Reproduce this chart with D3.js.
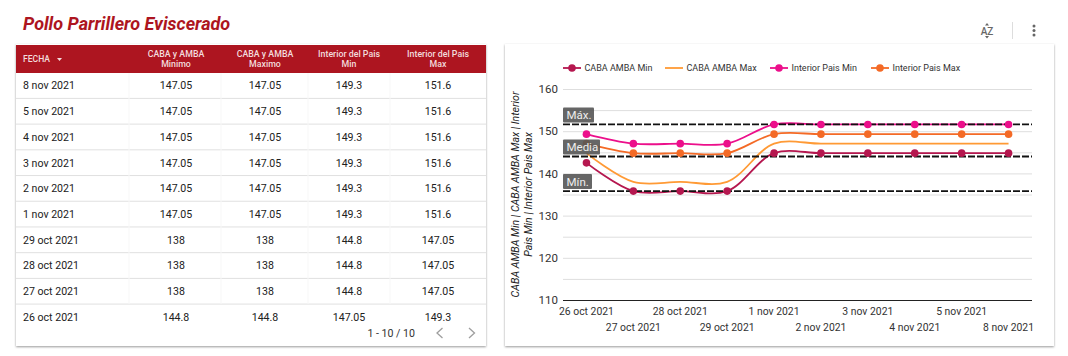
<!DOCTYPE html>
<html>
<head>
<meta charset="utf-8">
<script src="https://cdnjs.cloudflare.com/ajax/libs/d3/7.8.5/d3.min.js"></script>
<style>
    html, body { margin: 0; background: #fff; }
    svg { display: block; font-family: Roboto, sans-serif; }
</style>
</head>
<body>
<div id="chart"></div>
<script>
// table
const tableHeaders = ["FECHA", "CABA y AMBA|Minimo", "CABA y AMBA|Maximo", "Interior del Pais|Min", "Interior del Pais|Max"];
const tableDates = ["8 nov 2021", "5 nov 2021", "4 nov 2021", "3 nov 2021", "2 nov 2021", "1 nov 2021", "29 oct 2021", "28 oct 2021", "27 oct 2021", "26 oct 2021"];
const tableCabaMin = ["147.05", "147.05", "147.05", "147.05", "147.05", "147.05", "138", "138", "138", "144.8"];
const tableCabaMax = ["147.05", "147.05", "147.05", "147.05", "147.05", "147.05", "138", "138", "138", "144.8"];
const tableIntMin = ["149.3", "149.3", "149.3", "149.3", "149.3", "149.3", "144.8", "144.8", "144.8", "147.05"];
const tableIntMax = ["151.6", "151.6", "151.6", "151.6", "151.6", "151.6", "147.05", "147.05", "147.05", "149.3"];

// line chart
const dates = ["26 oct 2021", "27 oct 2021", "28 oct 2021", "29 oct 2021", "1 nov 2021", "2 nov 2021", "3 nov 2021", "4 nov 2021", "5 nov 2021", "8 nov 2021"];
const cabaMin = [142.5, 135.8, 135.8, 135.8, 144.8, 144.8, 144.8, 144.8, 144.8, 144.8];
const cabaMax = [144.8, 138, 138, 138, 147.05, 147.05, 147.05, 147.05, 147.05, 147.05];
const intMin = [149.3, 147.05, 147.05, 147.05, 151.6, 151.6, 151.6, 151.6, 151.6, 151.6];
const intMax = [147.05, 144.8, 144.8, 144.8, 149.3, 149.3, 149.3, 149.3, 149.3, 149.3];
const yTicks = [110, 115, 120, 125, 130, 135, 140, 145, 150, 155, 160];
const refNames = ["Máx.", "Media", "Mín."];
const refValues = [151.6, 144, 135.8];

const series = [
    {name: "CABA AMBA Min", values: cabaMin, color: "#b5174f", dots: true, legendX: 563},
    {name: "CABA AMBA Max", values: cabaMax, color: "#ff9a35", dots: false, legendX: 665},
    {name: "Interior Pais Min", values: intMin, color: "#ec0f8b", dots: true, legendX: 770},
    {name: "Interior Pais Max", values: intMax, color: "#f46a26", dots: true, legendX: 871}
];

const red = "#ad1520";
const svg = d3.select("#chart").append("svg").attr("width", 1068).attr("height", 356);

let defs = svg.append("defs");
defs.append("filter").attr("id", "card").attr("x", "-3%").attr("y", "-3%").attr("width", "106%").attr("height", "106%")
    .append("feDropShadow").attr("dx", 0).attr("dy", 1).attr("stdDeviation", 1.2)
    .attr("flood-color", "#000").attr("flood-opacity", 0.4);

svg.append("text").attr("x", 23).attr("y", 29.5)
    .attr("font-size", 18).attr("font-weight", 700).attr("font-style", "italic").attr("fill", red)
    .text("Pollo Parrillero Eviscerado");

drawTable();
drawChart();
drawToolbar();

function drawTable(){
    let g = svg.append("g");
    g.append("rect").attr("x", 16).attr("y", 44).attr("width", 470).attr("height", 302)
        .attr("fill", "#fff").attr("filter", "url(#card)");
    g.append("rect").attr("x", 16).attr("y", 45).attr("width", 470).attr("height", 28).attr("fill", red);

    let colX = [23, 176, 265, 349, 438];
    let colSep = [129, 221, 308, 390];
    let rowY = d3.scalePoint().domain(tableDates).range([85.6, 317]);
    let columns = [tableCabaMin, tableCabaMax, tableIntMin, tableIntMax];

    // header
    g.append("text").attr("x", colX[0]).attr("y", 62).attr("font-size", 8.6).attr("font-weight", 500)
        .attr("fill", "#f3dcdd").text(tableHeaders[0]);
    g.append("path").attr("d", "M57 58h5l-2.5 3z").attr("fill", "#f3dcdd");
    tableHeaders.slice(1).forEach((h, i) => {
        let lines = h.split("|");
        g.selectAll(null).data(lines).join("text")
            .attr("x", colX[i + 1]).attr("y", (d, j) => 57 + j * 9.5)
            .attr("text-anchor", "middle").attr("font-size", 8.8).attr("font-weight", 500)
            .attr("fill", "#f3dcdd").text(d => d);
    });

    // row lines
    g.selectAll(".rowLine").data(tableDates.slice(0, -1)).join("line")
        .attr("class", "rowLine")
        .attr("x1", 16).attr("x2", 486)
        .attr("y1", d => rowY(d) + 12.8).attr("y2", d => rowY(d) + 12.8)
        .attr("stroke", "#e0e0e0").attr("stroke-width", 1);
    g.selectAll(".colLine").data(colSep).join("line")
        .attr("class", "colLine")
        .attr("x1", d => d).attr("x2", d => d).attr("y1", 73).attr("y2", 304)
        .attr("stroke", "#f7f7f7");

    // cells
    g.selectAll(".dateCell").data(tableDates).join("text")
        .attr("class", "dateCell")
        .attr("x", colX[0]).attr("y", d => rowY(d) + 3.8)
        .attr("font-size", 10.6).attr("fill", "#212121").text(d => d);
    columns.forEach((col, i) => {
        g.selectAll(null).data(col).join("text")
            .attr("x", colX[i + 1]).attr("y", (d, j) => rowY(tableDates[j]) + 3.8)
            .attr("text-anchor", "middle").attr("font-size", 10.6).attr("fill", "#212121").text(d => d);
    });

    // pagination
    g.append("text").attr("x", 415).attr("y", 337).attr("text-anchor", "end")
        .attr("font-size", 10.6).attr("fill", "#333").text("1 - 10 / 10");
    g.append("path").attr("d", "M442.5 328l-5.5 5 5.5 5M469 328l5.5 5-5.5 5")
        .attr("fill", "none").attr("stroke", "#9e9e9e").attr("stroke-width", 1.3);
}

function drawChart(){
    let g = svg.append("g");
    g.append("rect").attr("x", 505).attr("y", 44).attr("width", 549).attr("height", 302)
        .attr("fill", "#fff").attr("filter", "url(#card)");

    let x = d3.scaleBand().domain(dates).range([563, 1032]);
    let y = d3.scaleLinear().domain([110, 160]).range([300, 89]);
    let cx = d => x(d) + x.bandwidth() / 2;

    // grid, a line every 5 but a label every 10
    g.append("g").call(d3.axisLeft(y).tickValues(yTicks).tickSize(-469).tickFormat(d => d % 10 === 0 ? d : ""))
        .attr("transform", "translate(563,0)")
        .call(a => a.select(".domain").remove())
        .call(a => a.selectAll("line").attr("stroke", d => d === 110 ? "#222" : "#dedede"))
        .call(a => a.selectAll("text").attr("x", -5).attr("font-family", "Roboto, sans-serif")
            .attr("font-size", 11.5).attr("fill", "#333"));

    // x labels in two rows
    g.selectAll(".xLabel").data(dates).join("text")
        .attr("class", "xLabel")
        .attr("x", d => cx(d))
        .attr("y", (d, i) => i % 2 === 0 ? 315 : 331)
        .attr("text-anchor", "middle").attr("font-size", 10.4).attr("fill", "#333").text(d => d);

    // axis title
    g.append("text").attr("transform", "translate(519,194.5) rotate(-90)")
        .attr("text-anchor", "middle").attr("font-size", 10.6).attr("font-style", "italic").attr("fill", "#222")
        .selectAll("tspan").data(["CABA AMBA Min | CABA AMBA Max | Interior", "Pais Min | Interior Pais Max"]).join("tspan")
        .attr("x", 0).attr("dy", (d, i) => i === 0 ? 0 : 13).text(d => d);

    // lines
    let line = d3.line().x((d, i) => cx(dates[i])).y(d => y(d)).curve(d3.curveCatmullRom.alpha(0.5));
    g.selectAll(".serie").data(series).join("path")
        .attr("class", "serie")
        .attr("d", d => line(d.values))
        .attr("fill", "none").attr("stroke", d => d.color).attr("stroke-width", 1.8);

    // reference lines go over the lines but under the dots
    g.selectAll(".refLine").data(refValues).join("line")
        .attr("class", "refLine")
        .attr("x1", 563).attr("x2", 1032).attr("y1", d => y(d)).attr("y2", d => y(d))
        .attr("stroke", "#111").attr("stroke-width", 1.8).attr("stroke-dasharray", "7 2");

    series.filter(s => s.dots).forEach(s => {
        g.selectAll(null).data(s.values).join("circle")
            .attr("cx", (d, i) => cx(dates[i])).attr("cy", d => y(d)).attr("r", 3.8).attr("fill", s.color);
    });

    refNames.forEach((name, i) => {
        let yy = y(refValues[i]);
        let w = [31, 37, 29][i];
        g.append("rect").attr("x", 563).attr("y", yy - 17).attr("width", w).attr("height", 15).attr("rx", 1)
            .attr("fill", "#555").attr("fill-opacity", 0.9);
        g.append("text").attr("x", 566.5).attr("y", yy - 5.5).attr("font-size", 11.5).attr("fill", "#eee").text(name);
    });

    // legend
    let leg = g.selectAll(".leg").data(series).join("g").attr("class", "leg")
        .attr("transform", d => `translate(${d.legendX},68)`);
    leg.append("line").attr("x1", 0).attr("x2", 18).attr("stroke", d => d.color).attr("stroke-width", 1.8);
    leg.filter(d => d.dots).append("circle").attr("cx", 9).attr("r", 3.8).attr("fill", d => d.color);
    leg.append("text").attr("x", 21.5).attr("y", 3.2).attr("font-size", 9).attr("fill", "#333").text(d => d.name);
}

function drawToolbar(){
    let g = svg.append("g").attr("fill", "#666");
    g.append("text").attr("x", 987).attr("y", 35).attr("text-anchor", "middle")
        .attr("font-size", 10).attr("font-weight", 500).text("AZ");
    g.append("path").attr("d", "M985 25.5h4l-2-2.5zM985 36h4l-2 2.5z");
    g.append("line").attr("x1", 1012.5).attr("x2", 1012.5).attr("y1", 22).attr("y2", 39).attr("stroke", "#ddd");
    g.selectAll(null).data([26, 30.5, 35]).join("circle")
        .attr("cx", 1034).attr("cy", d => d).attr("r", 1.5);
}
</script>
</body>
</html>
